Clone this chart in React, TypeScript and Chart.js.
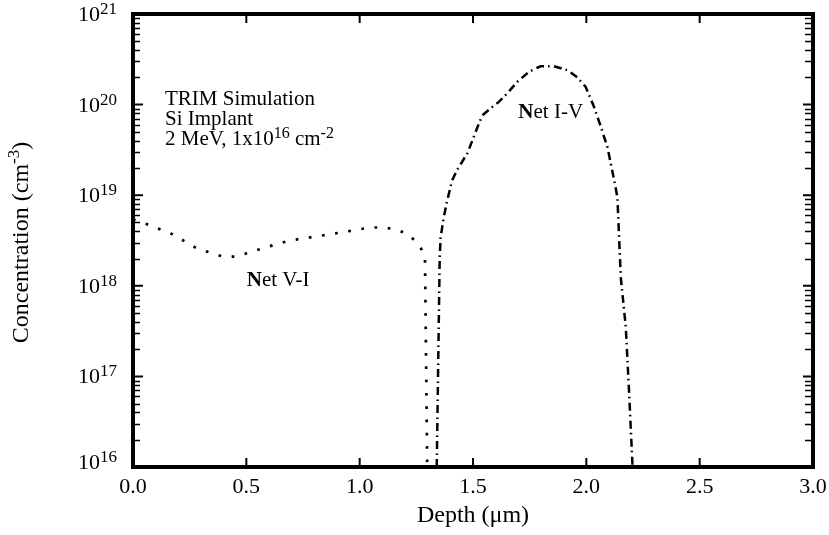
import React, { useEffect, useRef } from "react";
import { Chart, registerables } from "chart.js";

Chart.register(...registerables);

// ---- Data ----
const depthVI = [0.0, 0.06, 0.175, 0.28, 0.396, 0.454, 0.573, 0.688, 0.806, 0.925, 1.044, 1.103, 1.162, 1.217, 1.261, 1.288, 1.298];
const concVI = [5.4e18, 4.8e18, 3.7e18, 2.6e18, 2.1e18, 2.1e18, 2.6e18, 3.15e18, 3.5e18, 3.9e18, 4.4e18, 4.4e18, 4.2e18, 3.65e18, 2.85e18, 2.15e18, 1e16];

const depthIV = [1.34, 1.353, 1.357, 1.371, 1.386, 1.408, 1.43, 1.475, 1.497, 1.526, 1.541, 1.578, 1.614, 1.651, 1.695, 1.747, 1.798, 1.857, 1.916, 1.96, 1.997, 2.034, 2.064, 2.093, 2.123, 2.137, 2.152, 2.174, 2.189, 2.204];
const concIV = [1e16, 2.0e18, 3.4e18, 5.7e18, 8.7e18, 1.46e19, 1.9e19, 2.9e19, 4.0e19, 6.2e19, 7.6e19, 9.1e19, 1.07e20, 1.33e20, 1.78e20, 2.3e20, 2.65e20, 2.65e20, 2.4e20, 2.0e20, 1.57e20, 9.4e19, 5.7e19, 3.4e19, 1.46e19, 9.5e18, 1.24e18, 3.5e17, 6.4e16, 1.0e16];

const xTicks = [0, 0.5, 1.0, 1.5, 2.0, 2.5, 3.0];
const xTickLabels = ["0.0", "0.5", "1.0", "1.5", "2.0", "2.5", "3.0"];
const yDecades = [16, 17, 18, 19, 20, 21];
const yTickBase = "10";
const yTickExps = ["16", "17", "18", "19", "20", "21"];

const xTitle = "Depth (\u03bcm)";
const yTitleMain = "Concentration (cm";
const yTitleSup = "-3";
const yTitleEnd = ")";

const FONT = "'Liberation Serif', 'Times New Roman', Times, serif";

type Part = { t: string; sup?: boolean; bold?: boolean };

function drawRich(
  ctx: CanvasRenderingContext2D,
  parts: Part[],
  x: number,
  y: number,
  align: "left" | "right" | "center",
  size: number,
  supSize: number,
  raise: number
) {
  const fontOf = (p: Part) => `${p.bold ? "bold " : ""}${p.sup ? supSize : size}px ${FONT}`;
  let w = 0;
  for (const p of parts) {
    ctx.font = fontOf(p);
    w += ctx.measureText(p.t).width;
  }
  let cx = align === "left" ? x : align === "right" ? x - w : x - w / 2;
  ctx.textAlign = "left";
  ctx.textBaseline = "alphabetic";
  for (const p of parts) {
    ctx.font = fontOf(p);
    ctx.fillText(p.t, cx, p.sup ? y - raise : y);
    cx += ctx.measureText(p.t).width;
  }
}

// annotations anchored in data coordinates
const notes: { x: number; y: number; parts: Part[] }[] = [
  { x: 0.141, y: 9.9e19, parts: [{ t: "TRIM Simulation" }] },
  { x: 0.141, y: 5.9e19, parts: [{ t: "Si Implant" }] },
  { x: 0.141, y: 3.6e19, parts: [{ t: "2 MeV, 1x10" }, { t: "16", sup: true }, { t: " cm" }, { t: "-2", sup: true }] },
  { x: 0.502, y: 1.0e18, parts: [{ t: "N", bold: true }, { t: "et V-I" }] },
  { x: 1.70, y: 7.2e19, parts: [{ t: "N", bold: true }, { t: "et I-V" }] },
];

const framePlugin = {
  id: "framePlugin",
  afterDatasetsDraw(chart: any) {
    const { ctx, chartArea: a, scales } = chart;
    const xs = scales.x;
    const ys = scales.y;
    ctx.save();
    ctx.strokeStyle = "#000";
    ctx.fillStyle = "#000";
    ctx.lineCap = "butt";

    // minor y ticks
    ctx.lineWidth = 1.4;
    for (let d = yDecades[0]; d < yDecades[yDecades.length - 1]; d++) {
      for (let m = 2; m <= 9; m++) {
        const py = Math.round(ys.getPixelForValue(m * Math.pow(10, d))) + 0.5;
        ctx.beginPath();
        ctx.moveTo(a.left, py);
        ctx.lineTo(a.left + 7, py);
        ctx.moveTo(a.right, py);
        ctx.lineTo(a.right - 8, py);
        ctx.stroke();
      }
    }
    // major y ticks
    ctx.lineWidth = 2;
    for (const d of yDecades) {
      const py = ys.getPixelForValue(Math.pow(10, d));
      ctx.beginPath();
      ctx.moveTo(a.left, py);
      ctx.lineTo(a.left + 10, py);
      ctx.moveTo(a.right, py);
      ctx.lineTo(a.right - 10, py);
      ctx.stroke();
    }
    // x ticks top & bottom
    for (const v of xTicks) {
      const px = xs.getPixelForValue(v);
      ctx.beginPath();
      ctx.moveTo(px, a.top);
      ctx.lineTo(px, a.top + 9);
      ctx.moveTo(px, a.bottom + 2);
      ctx.lineTo(px, a.bottom - 9);
      ctx.stroke();
    }
    // frame
    ctx.lineWidth = 4;
    ctx.strokeRect(a.left, a.top, a.right - a.left, a.bottom - a.top);

    // x tick labels
    ctx.font = `22px ${FONT}`;
    ctx.textAlign = "center";
    ctx.textBaseline = "alphabetic";
    xTicks.forEach((v, i) => {
      ctx.fillText(xTickLabels[i], xs.getPixelForValue(v), a.bottom + 26);
    });

    // y tick labels with superscripts
    yDecades.forEach((d, i) => {
      const py = ys.getPixelForValue(Math.pow(10, d));
      const off = i === 0 ? 2 : 7;
      drawRich(ctx, [{ t: yTickBase }, { t: yTickExps[i], sup: true }], a.left - 16, py + off, "right", 22, 17, 7);
    });

    // x title
    ctx.font = `24px ${FONT}`;
    ctx.textAlign = "center";
    ctx.fillText(xTitle, (a.left + a.right) / 2, a.bottom + 55);

    // y title (rotated)
    ctx.save();
    ctx.translate(28, (a.top + a.bottom) / 2 + 2);
    ctx.rotate(-Math.PI / 2);
    drawRich(ctx, [{ t: yTitleMain }, { t: yTitleSup, sup: true }, { t: yTitleEnd }], 0, 0, "center", 24, 17, 9);
    ctx.restore();

    // annotations
    for (const n of notes) {
      drawRich(ctx, n.parts, xs.getPixelForValue(n.x), ys.getPixelForValue(n.y), "left", 21, 16, 7);
    }
    ctx.restore();
  },
};

export default function App() {
  const ref = useRef<HTMLCanvasElement | null>(null);
  useEffect(() => {
    if (!ref.current) return;
    const chart = new Chart(ref.current, {
      type: "scatter",
      data: {
        datasets: [
          {
            label: "Net V-I",
            data: depthVI.map((x, i) => ({ x, y: concVI[i] })),
            showLine: true,
            borderColor: "#000",
            borderWidth: 2.7,
            borderDash: [2.7, 10.6],
            borderCapStyle: "butt",
            pointRadius: 0,
            tension: 0,
          },
          {
            label: "Net I-V",
            data: depthIV.map((x, i) => ({ x, y: concIV[i] })),
            showLine: true,
            borderColor: "#000",
            borderWidth: 2.5,
            borderDash: [8, 4, 1.6, 4.4],
            borderCapStyle: "butt",
            pointRadius: 0,
            tension: 0,
          },
        ],
      },
      options: {
        responsive: false,
        devicePixelRatio: 1,
        animation: false,
        layout: { padding: { left: 133, right: 16, top: 14, bottom: 68 } },
        plugins: { legend: { display: false }, tooltip: { enabled: false } },
        scales: {
          x: { type: "linear", min: 0, max: 3, display: false },
          y: { type: "logarithmic", min: 1e16, max: 1e21, display: false },
        },
      },
      plugins: [framePlugin],
    } as any);
    return () => chart.destroy();
  }, []);
  return (
    <div style={{ position: "absolute", left: 0, top: 0, width: 829, height: 535, background: "#fff" }}>
      <canvas ref={ref} width={829} height={535} style={{ display: "block", width: 829, height: 535 }} />
    </div>
  );
}
